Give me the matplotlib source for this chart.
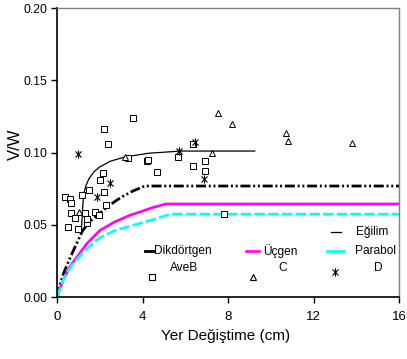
import matplotlib
matplotlib.use("Agg")
import matplotlib.pyplot as plt
from matplotlib.path import Path

plt.rcParams['font.family'] = ['Liberation Sans', 'DejaVu Sans']

# ---- data ----
egilim_x = [1.15, 1.2, 1.25, 1.35, 1.5, 1.75, 2.0, 2.5, 3.2, 4.3, 5.8, 7.5, 9.25]
egilim_y = [0.048, 0.062, 0.071, 0.077, 0.082, 0.087, 0.090, 0.094, 0.097, 0.0995, 0.101, 0.101, 0.101]

dik_x = [0, 0.15, 0.35, 0.7, 1.2, 1.6, 2.0, 2.5, 3.0, 3.5, 4.1, 16]
dik_y = [0, 0.009, 0.018, 0.030, 0.046, 0.053, 0.058, 0.064, 0.069, 0.073, 0.0768, 0.0768]

ucgen_x = [0, 0.3, 0.6, 0.95, 1.4, 2.0, 2.7, 3.4, 3.9, 4.5, 5.1, 16]
ucgen_y = [0, 0.012, 0.021, 0.028, 0.037, 0.046, 0.052, 0.0565, 0.059, 0.062, 0.0644, 0.0644]

parabol_x = [0, 0.35, 0.7, 1.1, 1.5, 2.0, 2.7, 3.4, 3.9, 4.6, 5.3, 16]
parabol_y = [0, 0.014, 0.022, 0.029, 0.035, 0.041, 0.046, 0.049, 0.051, 0.054, 0.0574, 0.0574]

aveb_x = [0.37, 0.61, 0.65, 0.64, 0.84, 0.5, 0.97, 1.18, 1.31, 1.40, 1.42, 1.51, 1.78, 1.96,
          2.2, 2.29, 2.0, 2.17, 2.21, 2.37, 3.54, 3.31, 4.2, 4.27, 4.66, 5.65, 6.38, 6.38,
          6.92, 6.92, 7.83]
aveb_y = [0.069, 0.068, 0.065, 0.058, 0.055, 0.0487, 0.047, 0.0706, 0.058, 0.0515, 0.054, 0.074,
          0.0586, 0.0567, 0.073, 0.064, 0.081, 0.086, 0.116, 0.106, 0.124, 0.0964, 0.094, 0.0945,
          0.0867, 0.0967, 0.091, 0.106, 0.0943, 0.0874, 0.0574]

c_x = [1.03, 3.18, 7.27, 7.55, 8.2, 10.71, 10.82, 13.82]
c_y = [0.059, 0.097, 0.0999, 0.1275, 0.1197, 0.1137, 0.108, 0.1064]

d_x = [1.0, 1.86, 2.48, 5.72, 6.46, 6.88]
d_y = [0.099, 0.0695, 0.079, 0.101, 0.107, 0.0815]

xticks = [0, 4, 8, 12, 16]
yticks = [0.00, 0.05, 0.10, 0.15, 0.20]
ytick_labels = ["0.00", "0.05", "0.10", "0.15", "0.20"]

# ---- figure ----
W, H = 407, 359
fig = plt.figure(figsize=(W / 100, H / 100), dpi=100)
ax = fig.add_axes([57 / W, 1 - 297 / H, (399 - 57) / W, (297 - 8) / H])

dik_style = (0, (3.6, 1.0, 0.7, 1.0, 0.7, 1.0))
par_style = (0, (4.0, 1.2))

ax.plot(egilim_x, egilim_y, color='black', lw=0.9)
ax.plot(dik_x, dik_y, color='black', lw=2.0, linestyle=dik_style)
ax.plot(ucgen_x, ucgen_y, color='#FF00FF', lw=1.9)
ax.plot(parabol_x, parabol_y, color='#00FFFF', lw=1.9, linestyle=par_style)

star = Path([(-0.8, -0.8), (0.8, 0.8), (-0.8, 0.8), (0.8, -0.8), (0, -1.1), (0, 1.1)],
            [Path.MOVETO, Path.LINETO, Path.MOVETO, Path.LINETO, Path.MOVETO, Path.LINETO])

ax.plot(aveb_x, aveb_y, ls='none', marker='s', ms=4.2, mfc='white', mec='black', mew=0.7)
ax.plot(c_x, c_y, ls='none', marker='^', ms=3.8, mfc='white', mec='black', mew=0.7)
ax.plot(d_x, d_y, ls='none', marker=star, ms=6, mec='black', mew=0.8)

ax.set_xlim(0, 16)
ax.set_ylim(0, 0.20)
ax.set_xticks(xticks)
ax.set_xticklabels([str(t) for t in xticks])
ax.set_yticks(yticks)
ax.set_yticklabels(ytick_labels)
ax.tick_params(direction='out', length=4, width=1, labelsize=8.8, colors='black', pad=3)
ax.tick_params(axis='x', pad=6, labelsize=9.5)

for s in ['top', 'right']:
    ax.spines[s].set_color('#808080')
    ax.spines[s].set_linewidth(1.0)
for s in ['left', 'bottom']:
    ax.spines[s].set_color('black')
    ax.spines[s].set_linewidth(1.2)

fig.text(226 / W, 1 - 336 / H, "Yer Değiştime (cm)", ha='center', va='center', fontsize=11)
fig.text(15 / W, 1 - 144 / H, "V/W", ha='center', va='center', fontsize=12, rotation=90)

# ---- legend (manual, as in the original) ----
def P(px, py):
    return (px / W, 1 - py / H)

def seg(x0, x1, y, **kw):
    (a, b), (c, d) = P(x0, y), P(x1, y)
    fig.add_artist(plt.Line2D([a, c], [b, d], transform=fig.transFigure, **kw))

def txt(px, py, s, ha='left'):
    x, y = P(px, py)
    fig.text(x, y, s, ha=ha, va='center', fontsize=8.6)

seg(331, 341, 232, color='black', lw=0.9)
txt(356, 232, "Eğilim")

seg(145, 150, 251, color='black', lw=2.0)
seg(152, 153.5, 251, color='black', lw=2.0)
txt(154, 251, "Dikdörtgen")

seg(246, 259, 251, color='#FF00FF', lw=1.9)
txt(263, 251, "Üçgen")

seg(327, 339, 251, color='#00FFFF', lw=1.9)
seg(341, 343.5, 251, color='#00FFFF', lw=1.9)
txt(355, 251, "Parabol")

txt(184, 268, "AveB", ha='center')
txt(283, 268, "C", ha='center')
txt(378, 268, "D", ha='center')

for (px, py, m, ms) in [(151.5, 276.5, 's', 4.2), (252.5, 277, '^', 3.8), (335, 272, star, 6)]:
    x, y = P(px, py)
    fig.add_artist(plt.Line2D([x], [y], transform=fig.transFigure, ls='none', marker=m, ms=ms,
                              mfc='white', mec='black', mew=0.8))

fig.savefig("out.png", dpi=100)
